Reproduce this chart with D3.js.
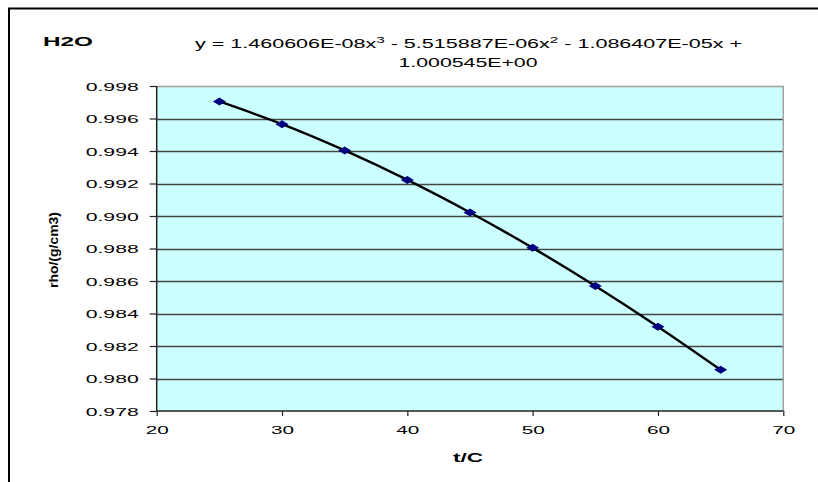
<!DOCTYPE html>
<html><head><meta charset="utf-8">
<script src="https://cdn.jsdelivr.net/npm/d3@7"></script>
<style>html,body{margin:0;padding:0;background:#fff;}svg{display:block;}</style>
</head><body>
<svg id="c" width="818" height="482"></svg>
<script>
// Data
const temps = [25, 30, 35, 40, 45, 50, 55, 60, 65];
const rho = [0.997047, 0.995650, 0.994033, 0.992219, 0.990216, 0.988039, 0.985695, 0.983192, 0.980536];
const xTicks = [20, 30, 40, 50, 60, 70];
const yTicks = [0.978, 0.980, 0.982, 0.984, 0.986, 0.988, 0.990, 0.992, 0.994, 0.996, 0.998];
const chartTitle = "H2O";
const xTitle = "t/C";
const yTitle = "rho/(g/cm3)";
const eqLine1 = ["y = 1.460606E-08x", "3", " - 5.515887E-06x", "2", " - 1.086407E-05x +"];
const eqLine2 = "1.000545E+00";

const svg = d3.select("#c");
const font = "Arial, 'Liberation Sans', sans-serif";
const L = 156.7, R = 783.3, T = 86, B = 411;

const x = d3.scaleLinear().domain([20, 70]).range([L, R]);
const y = d3.scaleLinear().domain([0.978, 0.998]).range([B, T]);

// outer frame
svg.append("rect").attr("x", 9).attr("y", 8.5).attr("width", 900).attr("height", 600)
  .attr("fill", "#fff").attr("stroke", "#000").attr("stroke-width", 2);

// plot background
svg.append("rect").attr("x", L).attr("y", T).attr("width", R - L).attr("height", B - T)
  .attr("fill", "#ccffff");

// gridlines
svg.append("g").selectAll("line").data(yTicks.slice(1, -1)).join("line")
  .attr("x1", L).attr("x2", R).attr("y1", d => Math.round(y(d)) + 0.5).attr("y2", d => Math.round(y(d)) + 0.5)
  .attr("stroke", "#444").attr("stroke-width", 1.3);

// top/right border
svg.append("path").attr("d", `M${L},${T + 0.5}H${R}V${B}`).attr("fill", "none")
  .attr("stroke", "#a0a0a0").attr("stroke-width", 1.5);

// axes
const yAxis = svg.append("g").attr("transform", `translate(${L},0)`)
  .call(d3.axisLeft(y).tickValues(yTicks).tickFormat(d3.format(".3f")).tickSize(7).tickPadding(11));
const xAxis = svg.append("g").attr("transform", `translate(0,${B})`)
  .call(d3.axisBottom(x).tickValues(xTicks).tickFormat(d3.format("d")).tickSize(5).tickPadding(9));
[yAxis, xAxis].forEach(a => {
  a.select(".domain").attr("stroke", "#222").attr("stroke-width", 1.5);
  a.selectAll(".tick line").attr("stroke", "#222").attr("stroke-width", 1.2);
  a.selectAll(".tick text").attr("font-family", font).attr("font-size", 11.5).attr("fill", "#000")
    .attr("lengthAdjust", "spacingAndGlyphs");
});
yAxis.select(".domain").attr("d", `M0,${T}V${B}`);
xAxis.select(".domain").attr("d", `M${L},0H${R}`);
yAxis.selectAll(".tick text").attr("textLength", 53).attr("dy", "0.35em");
xAxis.selectAll(".tick text").attr("textLength", 23).attr("dy", "0.75em");

// line
const line = d3.line().x((d, i) => x(temps[i])).y(d => y(d)).curve(d3.curveMonotoneX);
svg.append("path").attr("d", line(rho)).attr("fill", "none").attr("stroke", "#000").attr("stroke-width", 2.4);

// markers
svg.append("g").selectAll("path").data(rho).join("path")
  .attr("transform", (d, i) => `translate(${x(temps[i])},${y(d)})`)
  .attr("d", "M0,-4L6.5,0L0,4L-6.5,0Z").attr("fill", "#000080");

// titles
svg.append("text").attr("x", 43).attr("y", 45.5).text(chartTitle)
  .attr("font-family", font).attr("font-weight", "bold").attr("font-size", 12.5)
  .attr("textLength", 50).attr("lengthAdjust", "spacingAndGlyphs");

svg.append("text").attr("x", 468).attr("y", 462).attr("text-anchor", "middle").text(xTitle)
  .attr("font-family", font).attr("font-weight", "bold").attr("font-size", 12.5)
  .attr("textLength", 30).attr("lengthAdjust", "spacingAndGlyphs");

svg.append("text").attr("transform", "translate(58,250) rotate(-90)").attr("text-anchor", "middle").text(yTitle)
  .attr("font-family", font).attr("font-weight", "bold").attr("font-size", 13.5)
  .attr("textLength", 76).attr("lengthAdjust", "spacingAndGlyphs");

// equation
const eq = svg.append("text").attr("x", 195).attr("y", 47.5)
  .attr("font-family", font).attr("font-size", 12).attr("textLength", 547).attr("lengthAdjust", "spacingAndGlyphs");
eqLine1.forEach((s, i) => {
  const t = eq.append("tspan").text(s);
  if (i % 2 === 1) t.attr("font-size", 8.5).attr("dy", -5);
  else if (i > 0) t.attr("dy", 5);
});
svg.append("text").attr("x", 468).attr("y", 67).attr("text-anchor", "middle").text(eqLine2)
  .attr("font-family", font).attr("font-size", 12).attr("textLength", 139).attr("lengthAdjust", "spacingAndGlyphs");
</script>
</body></html>
